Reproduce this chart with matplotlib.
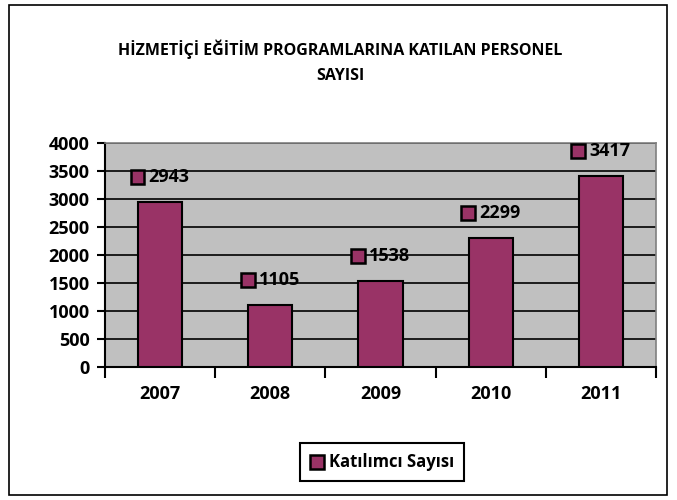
import matplotlib.pyplot as plt
from matplotlib.patches import Rectangle
from matplotlib.offsetbox import AnnotationBbox, DrawingArea, TextArea, HPacker

# Veriler
years = ['2007', '2008', '2009', '2010', '2011']
values = [2943, 1105, 1538, 2299, 3417]
series_name = 'Katılımcı Sayısı'
title = 'HİZMETİÇİ EĞİTİM PROGRAMLARINA KATILAN PERSONEL\nSAYISI'

bar_color = '#993366'
fs = 13
plt.rcParams['font.family'] = ['Open Sans', 'DejaVu Sans']
plt.rcParams['font.weight'] = 'bold'

fig = plt.figure(figsize=(6.77, 5.0), dpi=100)
fig.patches.append(Rectangle((9 / 677, 5 / 500), 658 / 677, 490 / 500, transform=fig.transFigure,
                             fill=False, edgecolor='black', linewidth=1.2))

ax = fig.add_axes([105 / 677, 1 - 367 / 500, 551 / 677, 224 / 500])
ax.set_facecolor('#C0C0C0')

x = list(range(len(years)))
ax.bar(x, values, width=0.4, color=bar_color, edgecolor='black', linewidth=1.5, zorder=3)

ax.set_xlim(-0.5, len(years) - 0.5)
ax.set_ylim(0, 4000)
ax.set_yticks(range(0, 4001, 500))
ax.yaxis.grid(True, color='black', linewidth=1.2, zorder=1)
ax.set_axisbelow(True)

# kategori sınırlarında tikler
ax.set_xticks([i - 0.5 for i in range(len(years) + 1)])
ax.set_xticklabels([])
ax.set_xticks(x, minor=True)
ax.set_xticklabels(years, minor=True, fontsize=fs, fontweight='bold')
ax.tick_params(axis='x', which='minor', length=0, pad=13)
ax.tick_params(axis='x', which='major', length=8, width=1.5, direction='out')
ax.tick_params(axis='y', length=6, width=1.5, direction='out', pad=5, labelsize=fs)
for lab in ax.get_yticklabels():
    lab.set_fontweight('bold')

for s in ['top', 'right']:
    ax.spines[s].set_color('#808080')
    ax.spines[s].set_linewidth(1.2)
for s in ['left', 'bottom']:
    ax.spines[s].set_linewidth(1.5)

# veri etiketleri
for xi, v in zip(x, values):
    da = DrawingArea(10, 10, 0, 0)
    da.add_artist(Rectangle((0, 0), 10, 10, facecolor=bar_color, edgecolor='black', linewidth=1.8))
    ta = TextArea(str(v), textprops=dict(fontsize=fs, fontweight='bold'))
    box = HPacker(children=[da, ta], align='center', pad=0, sep=3)
    ab = AnnotationBbox(box, (xi, v), xybox=(0, 18), xycoords='data', boxcoords='offset points',
                        frameon=False, pad=0, zorder=5)
    ax.add_artist(ab)

fig.text(340 / 677, 1 - 62 / 500, title, ha='center', va='center', fontsize=11.5,
         fontweight='bold', linespacing=1.75)

# gösterge
da = DrawingArea(10, 10, 0, 0)
da.add_artist(Rectangle((0, 0), 10, 10, facecolor=bar_color, edgecolor='black', linewidth=1.8))
ta = TextArea(series_name, textprops=dict(fontsize=12, fontweight='bold'))
box = HPacker(children=[da, ta], align='center', pad=0, sep=4)
lg = AnnotationBbox(box, (382 / 677, 1 - 462 / 500), xycoords='figure fraction', frameon=True, pad=0.7,
                    bboxprops=dict(edgecolor='black', linewidth=1.5, facecolor='white', boxstyle='square,pad=0.7'))
fig.add_artist(lg)

fig.savefig('out.png', dpi=100)
